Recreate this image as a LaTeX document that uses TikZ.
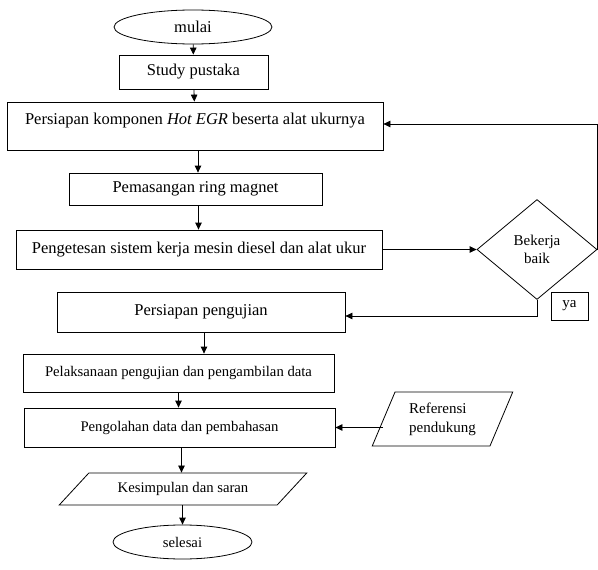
\documentclass[tikz,border=0pt]{standalone}
\usepackage{fontspec}
\setmainfont{Liberation Serif}
\usetikzlibrary{arrows.meta, shapes.geometric}

\begin{document}
\begin{tikzpicture}[x=1pt,y=-1pt,line width=0.8pt,
    font=\fontsize{16.5}{19}\selectfont,
    >={Triangle[length=7pt,width=6.5pt]},
    kecil/.style={font=\fontsize{14.7}{18}\selectfont},
    proses/.style={draw, rectangle, inner sep=0pt},
    terminal/.style={draw, ellipse, inner sep=0pt, minimum height=34pt},
    keputusan/.style={draw, diamond, inner sep=0pt, align=center,
      font=\fontsize{15}{18}\selectfont},
    dataio/.style={draw, trapezium, trapezium stretches=true, inner sep=0pt}]
             \useasboundingbox (0,0) rectangle (598,570);
             \node[terminal, minimum width=158pt] (mulai) at (193,27) {mulai};
             \node[proses, minimum width=149pt, minimum height=34pt] (study) at (193.5,72) {Study pustaka};
             \node[proses, minimum width=376pt, text height=22pt, text depth=26pt] (komponen) at (195,126)
                {Persiapan komponen \textit{Hot EGR} beserta alat ukurnya};
             \node[proses, minimum width=253pt, minimum height=32pt] (pemasangan) at (195.5,189) {Pemasangan ring magnet};
             \node[proses, minimum width=366pt, minimum height=39pt] (pengetesan) at (199,249.5)
                {Pengetesan sistem kerja mesin diesel dan alat ukur};
             \node[keputusan, minimum width=120pt, minimum height=100pt] (bekerja) at (537,249.5) {Bekerja\\baik};
             \node[proses, minimum width=288pt, minimum height=40pt] (pengujian) at (201,312) {Persiapan pengujian};
             \node[proses, minimum width=37pt, minimum height=28pt, font=\fontsize{15}{18}\selectfont] (ya) at (569.5,306) {ya};
             \node[proses, kecil, minimum width=311pt, minimum height=38pt] (pelaksanaan) at (178.5,373)
                {Pelaksanaan pengujian dan pengambilan data};
             \node[proses, kecil, minimum width=311pt, minimum height=39pt] (pengolahan) at (179.5,427.5)
                {Pengolahan data dan pembahasan};
             \node[dataio, trapezium left angle=64, trapezium right angle=116, minimum width=141pt, minimum height=54pt,
                align=left, font=\fontsize{15}{19}\selectfont] (referensi) at (442.5,419) {Referensi\\pendukung};
             \node[dataio, kecil, trapezium left angle=33, trapezium right angle=147, minimum width=248pt, minimum height=32pt]
                (kesimpulan) at (183,489) {Kesimpulan dan saran};
             \node[terminal, kecil, minimum width=139pt] (selesai) at (182.5,542) {selesai};
             \draw[->] (mulai) -- (study);
             \draw[->] (study) -- (komponen);
             \draw[->] ([xshift=3pt]komponen.south) -- ([xshift=3pt]komponen.south |- pemasangan.north);
             \draw[->] ([xshift=3pt]pemasangan.south) -- ([xshift=3pt]pemasangan.south |- pengetesan.north);
             \draw[->] (pengetesan.east) -- (bekerja.west);
             \draw[->] (bekerja.east) |- ([yshift=2pt]komponen.east);
             \draw[->] (bekerja.south) |- ([yshift=-4pt]pengujian.east);
             \draw[->] ([xshift=3pt]pengujian.south) -- ([xshift=3pt]pengujian.south |- pelaksanaan.north);
             \draw[->] (pelaksanaan.south) -- (pelaksanaan.south |- pengolahan.north);
             \draw[->] (referensi.west |- pengolahan.east) -- (pengolahan.east);
             \draw[->] ([xshift=2pt]pengolahan.south) -- ([xshift=2pt]pengolahan.south |- kesimpulan.north);
             \draw[->] (kesimpulan.south -| selesai.north) -- (selesai.north);
\end{tikzpicture}
\end{document}
